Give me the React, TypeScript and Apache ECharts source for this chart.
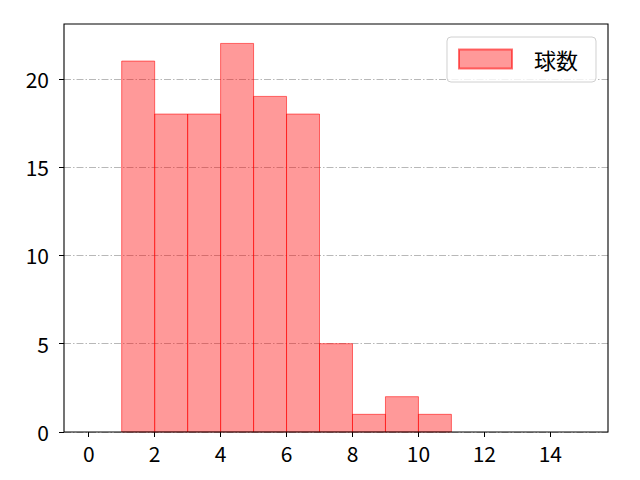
import React, { useEffect, useRef } from 'react';
import * as echarts from 'echarts';

// histogram bins (width 1) and counts
const binStarts = [1, 2, 3, 4, 5, 6, 7, 8, 9, 10];
const binEnds = [2, 3, 4, 5, 6, 7, 8, 9, 10, 11];
const counts = [21, 18, 18, 22, 19, 18, 5, 1, 2, 1];
const seriesName = '球数';

const xTicks = [0, 2, 4, 6, 8, 10, 12, 14];
const yTicks = [0, 5, 10, 15, 20];

const FONT = '"Noto Sans CJK JP", "Noto Sans", sans-serif';

const App: React.FC = () => {
  const chartRef = useRef<HTMLDivElement>(null);

  useEffect(() => {
    if (!chartRef.current) return;
    const chart = echarts.init(chartRef.current, null, { renderer: 'svg' });

    // plot box, in pixels
    const L = 64, R = 32, T = 24, B = 48;
    const W = 640 - L - R;
    const H = 480 - T - B;
    // matplotlib-like 5% margins around 0..15 and 0..max
    const xMin = -0.75, xMax = 15.75;
    const yMax = Math.max(...counts) * 1.05;

    const xFirst = xTicks[0], xLast = xTicks[xTicks.length - 1];
    const yLast = yTicks[yTicks.length - 1];
    const xTickLeft = L + ((xFirst - xMin) / (xMax - xMin)) * W;
    const xTickRight = 640 - (L + ((xLast - xMin) / (xMax - xMin)) * W);
    const yTickTop = T + ((yMax - yLast) / yMax) * H;

    const option: echarts.EChartsOption = {
      animation: false,
      backgroundColor: '#ffffff',
      textStyle: { fontFamily: FONT },
      grid: [
        { left: L, right: R, top: T, bottom: B, show: true, borderColor: '#000', borderWidth: 1.1, backgroundColor: 'transparent', z: 5 },
        { left: xTickLeft, right: xTickRight, top: T, bottom: B },
        { left: L, right: R, top: yTickTop, bottom: B }
      ],
      xAxis: [
        { gridIndex: 0, type: 'value', min: xMin, max: xMax, show: false },
        {
          gridIndex: 1, type: 'value', min: xFirst, max: xLast, interval: 2,
          axisLine: { show: false },
          axisTick: { show: true, length: 5, lineStyle: { color: '#000', width: 1 } },
          axisLabel: { color: '#000', fontSize: 21, margin: 10, fontFamily: FONT },
          splitLine: { show: false }
        },
        { gridIndex: 2, type: 'value', min: 0, max: 1, show: false }
      ],
      yAxis: [
        { gridIndex: 0, type: 'value', min: 0, max: yMax, show: false },
        { gridIndex: 1, type: 'value', min: 0, max: 1, show: false },
        {
          gridIndex: 2, type: 'value', min: 0, max: yLast, interval: 5,
          axisLine: { show: false },
          axisTick: { show: true, length: 5, lineStyle: { color: '#000', width: 1 } },
          axisLabel: { color: '#000', fontSize: 21, margin: 15, fontFamily: FONT },
          splitLine: { show: true, lineStyle: { color: '#b0b0b0', width: 0.9, type: [7, 2, 1.5, 2] } }
        }
      ],
      legend: {
        data: [seriesName],
        right: 44,
        top: 37,
        orient: 'vertical',
        icon: 'rect',
        itemWidth: 53,
        itemHeight: 19,
        padding: [11, 18, 12, 11],
        borderColor: '#d0d0d0',
        borderWidth: 1,
        borderRadius: 4,
        backgroundColor: 'rgba(255,255,255,0.8)',
        textStyle: { color: '#000', fontSize: 22, fontFamily: FONT, padding: [0, 0, 0, 17] }
      },
      series: [
        {
          name: seriesName,
          type: 'custom',
          xAxisIndex: 0,
          yAxisIndex: 0,
          itemStyle: { color: 'rgba(255,0,0,0.4)', borderColor: 'rgba(255,0,0,0.55)', borderWidth: 1 },
          encode: { x: [0, 1], y: 2 },
          data: binStarts.map((s, i) => [s, binEnds[i], counts[i]]),
          renderItem: (_params: any, api: any) => {
            const p0 = api.coord([api.value(0), api.value(2)]);
            const p1 = api.coord([api.value(1), 0]);
            return {
              type: 'rect',
              shape: { x: p0[0], y: p0[1], width: p1[0] - p0[0], height: p1[1] - p0[1] },
              style: { fill: 'rgba(255,0,0,0.4)', stroke: 'rgba(255,0,0,0.55)', lineWidth: 1 }
            };
          }
        }
      ]
    };

    chart.setOption(option);
    return () => {
      chart.dispose();
    };
  }, []);

  return (
    <div
      ref={chartRef}
      style={{ width: '640px', height: '480px', position: 'absolute', left: 0, top: 0 }}
    />
  );
};

export default App;
